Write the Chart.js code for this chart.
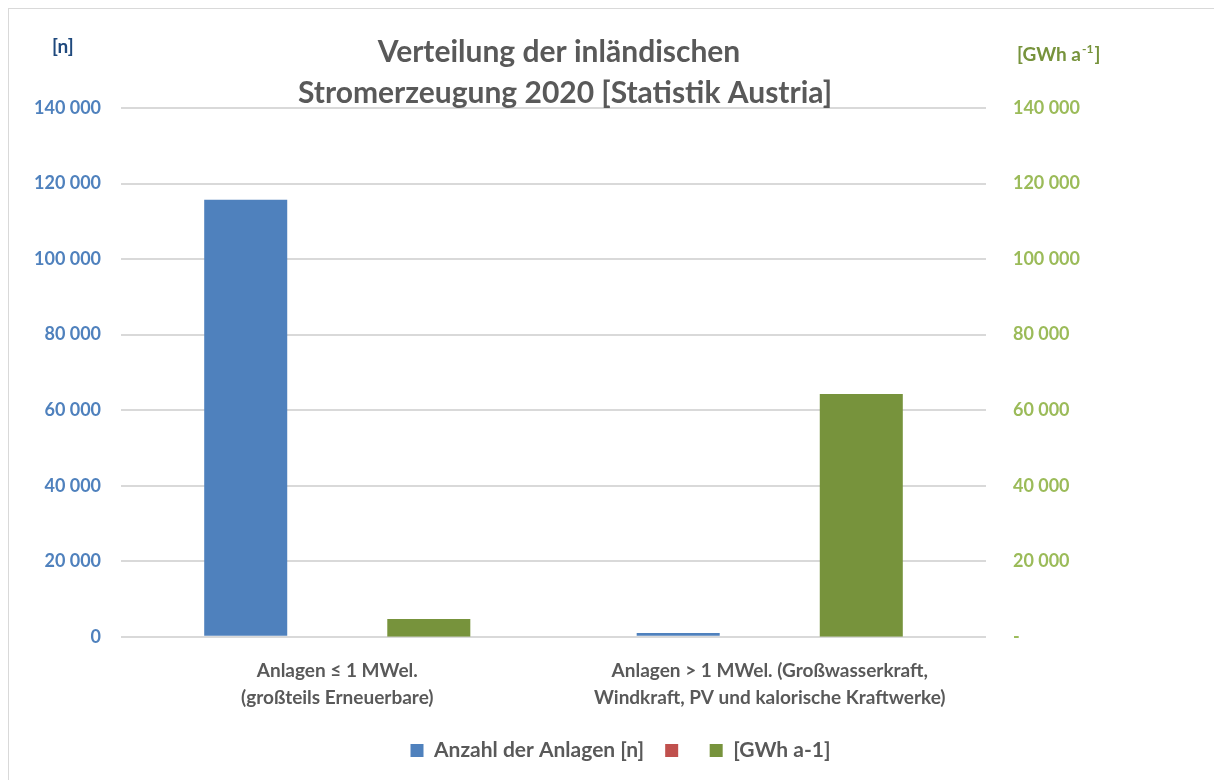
<!DOCTYPE html>
<html>
<head>
<meta charset="utf-8">
<script src="https://cdn.jsdelivr.net/npm/chart.js@4"></script>
<style>
  html, body { margin: 0; padding: 0; background: #fff; overflow: hidden; }
  #frame { position: absolute; left: 8px; top: 8px; width: 1230px; height: 800px; border: 1px solid #d9d9d9; }
  #wrap { position: absolute; left: 0; top: 0; width: 1214px; height: 780px; }
</style>
</head>
<body>
<div id="frame"></div>
<div id="wrap"><canvas id="stromChart"></canvas></div>
<script>
let categories = [
    ['Anlagen ≤ 1 MWel.', '(großteils Erneuerbare)'],
    ['Anlagen > 1 MWel. (Großwasserkraft,', 'Windkraft, PV und kalorische Kraftwerke)']
];
let anzahlAnlagen = [115700, 1000];
let leereReihe = [0, 0];
let erzeugungGWh = [4700, 64300];
let tickWerte = [0, 20000, 40000, 60000, 80000, 100000, 120000, 140000];

let fontFamily = 'Lato, "Liberation Sans", sans-serif';

function formatNum(v) {
    return String(v).replace(/\B(?=(\d{3})+(?!\d))/g, ' ');
}

// Titel und Einheiten ueber den Achsen
let beschriftung = {
    id: 'beschriftung',
    beforeDraw(chart) {
        // Legende etwas nach rechts/oben wie im Original
        chart.legend.left += 60;
        chart.legend.right += 60;
        chart.legend.top -= 5;
        chart.legend.bottom -= 5;
    },
    afterDraw(chart) {
        let c = chart.ctx;
        c.save();
        c.textBaseline = 'middle';
        c.textAlign = 'center';
        c.fillStyle = '#595959';
        c.font = 'bold 30px ' + fontFamily;
        c.fillText('Verteilung der inländischen', 559, 52);
        c.fillText('Stromerzeugung 2020 [Statistik Austria]', 565, 93);

        c.font = 'bold 19px ' + fontFamily;
        c.textAlign = 'left';
        c.fillStyle = '#1f497d';
        c.fillText('[n]', 52, 47);
        c.fillStyle = '#77933c';
        let x = 1017;
        c.fillText('[GWh a', x, 55);
        x += c.measureText('[GWh a').width + 1;
        c.font = 'bold 12px ' + fontFamily;
        c.fillText('-1', x, 49);
        x += c.measureText('-1').width + 1;
        c.font = 'bold 19px ' + fontFamily;
        c.fillText(']', x, 55);
        c.restore();
    }
};

let ctx = document.getElementById('stromChart').getContext('2d');

let stromChart = new Chart(ctx, {
    type: 'bar',
    data: {
        labels: categories,
        datasets: [{
            label: 'Anzahl der Anlagen [n]',
            data: anzahlAnlagen,
            backgroundColor: '#4f81bd',
            yAxisID: 'y'
        }, {
            label: '',
            data: leereReihe,
            backgroundColor: '#c0504d',
            yAxisID: 'y'
        }, {
            label: '[GWh a-1]',
            data: erzeugungGWh,
            backgroundColor: '#77933c',
            yAxisID: 'y2'
        }]
    },
    options: {
        responsive: true,
        maintainAspectRatio: false,
        animation: false,
        categoryPercentage: 0.635,
        barPercentage: 0.907,
        layout: {
            padding: { left: 14, right: 107, top: 108, bottom: 4 }
        },
        plugins: {
            title: { display: false },
            tooltip: { enabled: false },
            legend: {
                position: 'bottom',
                labels: {
                    boxWidth: 13,
                    boxHeight: 13,
                    padding: 21,
                    color: '#595959',
                    font: { family: fontFamily, size: 21, weight: 'bold' }
                }
            }
        },
        scales: {
            x: {
                grid: { display: false },
                border: { display: false },
                ticks: {
                    color: '#595959',
                    padding: 13,
                    font: { family: fontFamily, size: 19, weight: 'bold', lineHeight: 1.4 }
                }
            },
            y: {
                position: 'left',
                min: 0,
                max: 140000,
                afterBuildTicks: (axis) => { axis.ticks = tickWerte.map(v => ({ value: v })); },
                grid: { color: '#d9d9d9', lineWidth: 2, drawTicks: false },
                border: { display: false },
                ticks: {
                    color: '#4f81bd',
                    padding: 20,
                    font: { family: fontFamily, size: 18, weight: 'bold' },
                    callback: (value) => formatNum(value)
                }
            },
            y2: {
                position: 'right',
                min: 0,
                max: 140000,
                afterBuildTicks: (axis) => { axis.ticks = tickWerte.map(v => ({ value: v })); },
                grid: { display: false, drawTicks: false },
                border: { display: false },
                ticks: {
                    color: '#9bbb59',
                    padding: 27,
                    font: { family: fontFamily, size: 18, weight: 'bold' },
                    callback: (value) => value === 0 ? '-' : formatNum(value)
                }
            }
        }
    },
    plugins: [beschriftung]
});
</script>
</body>
</html>
